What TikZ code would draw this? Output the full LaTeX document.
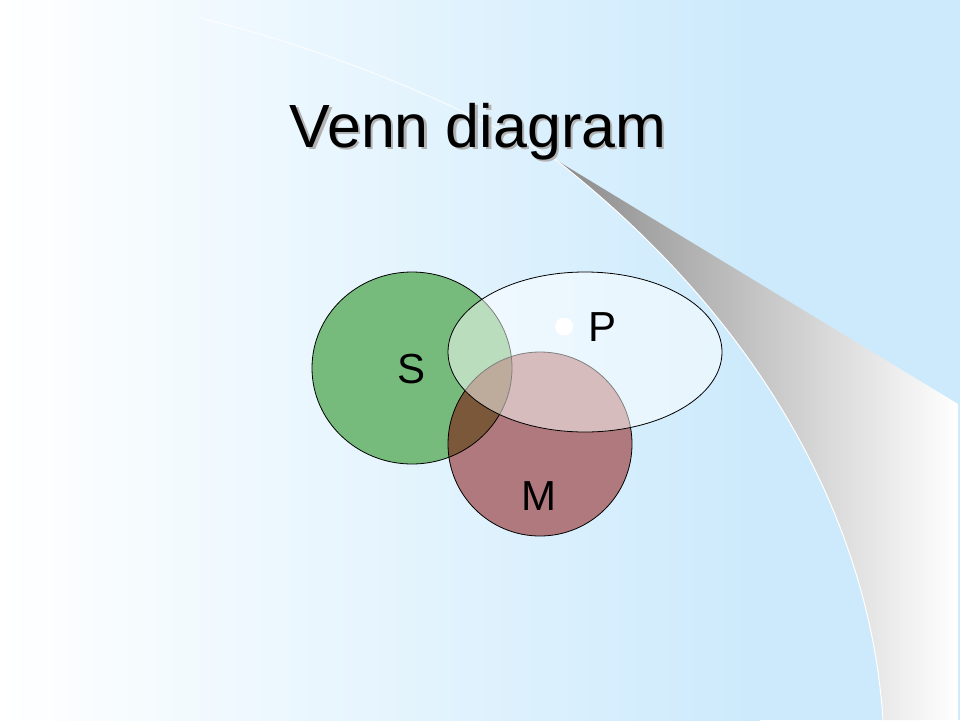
\documentclass[tikz,border=0pt]{standalone}
\usepackage{fontspec}
\setmainfont{Liberation Sans}
\usetikzlibrary{positioning}

\definecolor{bgblue}{RGB}{204,234,252}
\definecolor{sgreen}{RGB}{118,187,124}
\definecolor{mred}{RGB}{176,121,125}
\definecolor{smbrown}{RGB}{124,88,58}

\begin{document}
\begin{tikzpicture}[x=1pt, y=-1pt, line width=0.8pt,
    setlabel/.style={anchor=base, inner sep=0pt, font=\fontsize{42}{42}\selectfont},
    titletext/.style={anchor=base, inner sep=0pt, font=\fontsize{61}{61}\selectfont}]
    \useasboundingbox (0,0) rectangle (960,720);

    % slide background and swoosh
    \fill [bgblue] (0,0) rectangle (960,720);
    \shade [left color=white, right color=bgblue] (0,0) rectangle (760,720);
    \coordinate (tip) at (556,160);
    \shade [left color=black!46, right color=white] (tip) -- (958,404) -- (958,720) -- (883,720)
        .. controls (870,520) and (760,320) .. (tip) -- cycle;
    \draw [white, line width=1pt] (883,720) .. controls (870,520) and (760,320) .. (tip);
    \draw [white, opacity=0.7, line width=1.2pt] (200,18) .. controls (330,50) and (450,100) .. (tip);

    % title with shadow
    \node [titletext, text=black!30] (titleshadow) at (480.5,149.5) {Venn diagram};
    \node [titletext] (title) at (478,147) {Venn diagram};

    % sets
    \fill [sgreen] (412,368) ellipse [x radius=100pt, y radius=96pt];
    \fill [mred] (540,444) circle [radius=92pt];
    \begin{scope}
        \clip (412,368) ellipse [x radius=100pt, y radius=96pt];
        \fill [smbrown] (540,444) circle [radius=92pt];
    \end{scope}
    \draw (412,368) ellipse [x radius=100pt, y radius=96pt];
    \draw (540,444) circle [radius=92pt];
    \filldraw [fill=white, fill opacity=0.5] (585,352) ellipse [x radius=137pt, y radius=80pt];

    \node [setlabel] (slabel) at (411.5,383) {S};
    \node [setlabel] (plabel) at (602,341) {P};
    \node [setlabel] (mlabel) at (539,510) {M};
    \node [circle, fill=white, inner sep=0pt, minimum size=18pt, left=14pt of plabel] (pdot) {};
\end{tikzpicture}
\end{document}
